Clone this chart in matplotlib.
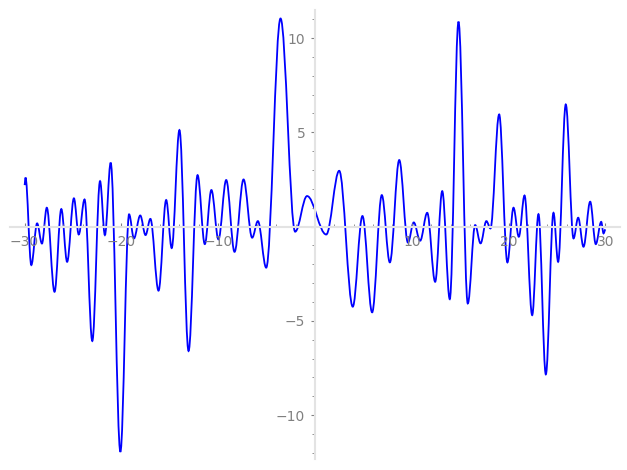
import matplotlib
matplotlib.use('Agg')
import matplotlib.pyplot as plt
from matplotlib.path import Path
from matplotlib.patches import PathPatch
from matplotlib.ticker import MultipleLocator, FuncFormatter

# turning points of the curve
xs = [-30.0, -29.9, -29.3, -28.7, -28.2, -27.7, -26.9, -26.2, -25.6, -24.9,
      -24.4, -23.8, -23.0, -22.2, -21.7, -21.1, -20.1, -19.2, -18.7, -18.05,
      -17.5, -17.0, -16.16, -15.37, -14.8, -14.0, -13.06, -12.13, -11.38, -10.7,
      -9.97, -9.17, -8.31, -7.38, -6.49, -5.9, -5.04, -3.56, -2.05, -0.82,
      1.16, 2.5, 3.9, 4.9, 5.9, 6.9, 7.73, 8.7, 9.6, 10.2,
      10.86, 11.59, 12.41, 13.14, 13.92, 14.82, 15.78, 16.54, 17.1, 17.7,
      18.12, 19.02, 19.87, 20.5, 21.05, 21.64, 22.43, 23.08, 23.84, 24.63,
      25.11, 25.9, 26.7, 27.18, 27.73, 28.42, 29.0, 29.56, 29.8, 30.0]
ys = [2.2, 2.6, -2.04, 0.17, -0.9, 1.0, -3.46, 0.93, -1.87, 1.5,
      -0.42, 1.44, -6.07, 2.41, -0.45, 3.39, -11.95, 0.65, -0.63, 0.59,
      -0.45, 0.41, -3.4, 1.41, -1.14, 5.12, -6.6, 2.73, -0.93, 1.94,
      -0.68, 2.47, -1.34, 2.5, -0.59, 0.29, -2.18, 11.04, -0.27, 1.62,
      -0.42, 2.96, -4.25, 0.56, -4.55, 1.67, -1.9, 3.53, -0.85, 0.22,
      -0.75, 0.73, -2.93, 1.88, -3.85, 10.87, -4.08, 0.08, -0.89, 0.29,
      -0.1, 5.95, -1.9, 1.0, -0.54, 1.65, -4.7, 0.66, -7.84, 0.73,
      -1.87, 6.48, -0.63, 0.47, -1.07, 1.32, -0.93, 0.25, -0.36, -0.15]

x_major = 10
y_major = 5

fig = plt.figure(figsize=(6.27, 4.7), dpi=100)
ax = fig.add_axes([10/627, 11/470, 610/627, 449/470])

# smooth curve: bezier segments with flat tangents at each turning point
verts = [(xs[0], ys[0])]
codes = [Path.MOVETO]
for i in range(1, len(xs)):
    d = (xs[i] - xs[i-1]) * 0.36
    verts += [(xs[i-1] + d, ys[i-1]), (xs[i] - d, ys[i]), (xs[i], ys[i])]
    codes += [Path.CURVE4] * 3
ax.add_patch(PathPatch(Path(verts, codes), fill=False, edgecolor='#0000ff', lw=1.3))

ax.set_xlim(-31.5, 31.5)
ax.set_ylim(-12.33, 11.49)

for s in ['top', 'right']:
    ax.spines[s].set_visible(False)
ax.spines['left'].set_position(('data', 0))
ax.spines['bottom'].set_position(('data', 0))
for s in ['left', 'bottom']:
    ax.spines[s].set_color('#e3e3e3')
    ax.spines[s].set_linewidth(1.5)

ax.xaxis.set_major_locator(MultipleLocator(x_major))
ax.xaxis.set_minor_locator(MultipleLocator(2))
ax.yaxis.set_major_locator(MultipleLocator(y_major))
ax.yaxis.set_minor_locator(MultipleLocator(1))

def tick_fmt(v, p):
    if abs(v) < 1e-9:
        return ''
    return ('%d' % v).replace('-', '\u2212')

ax.xaxis.set_major_formatter(FuncFormatter(tick_fmt))
ax.yaxis.set_major_formatter(FuncFormatter(tick_fmt))

ax.tick_params(axis='x', which='both', direction='in', colors='#808080', labelcolor='#808080',
               labelsize=10, pad=6)
ax.tick_params(axis='y', which='both', direction='out', colors='#808080', labelcolor='#808080',
               labelsize=10, pad=4)
ax.tick_params(which='major', length=3, width=0.8)
ax.tick_params(which='minor', length=2, width=0.6)
ax.set_facecolor('white')

fig.savefig('out.png', dpi=100)
